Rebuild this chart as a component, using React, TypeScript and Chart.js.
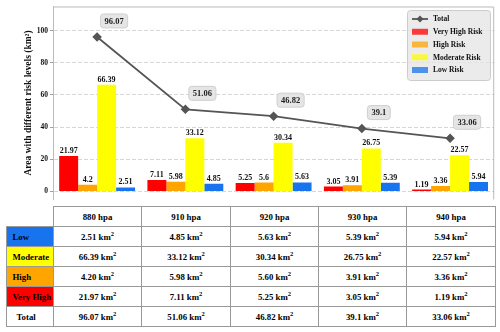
import React, { useEffect, useRef } from 'react';
import { Chart, registerables } from 'chart.js';

Chart.register(...registerables);

const categories = ['880 hpa', '910 hpa', '920 hpa', '930 hpa', '940 hpa'];
const veryHigh = [21.97, 7.11, 5.25, 3.05, 1.19];
const high = [4.2, 5.98, 5.6, 3.91, 3.36];
const moderate = [66.39, 33.12, 30.34, 26.75, 22.57];
const low = [2.51, 4.85, 5.63, 5.39, 5.94];
const total = [96.07, 51.06, 46.82, 39.1, 33.06];
const yTicks = [0, 20, 40, 60, 80, 100];

const FONT = "'Liberation Serif', 'Times New Roman', serif";
const RED = '#ff0000';
const ORANGE = '#ffa500';
const YELLOW = '#ffff00';
const BLUE = '#1874ee';
const LINE = '#555555';

const framePlugin = {
  id: 'frame',
  beforeDatasetsDraw(chart: any) {
    const { ctx, chartArea: a } = chart;
    ctx.save();
    ctx.strokeStyle = '#bbbbbb';
    ctx.lineWidth = 1;
    ctx.beginPath();
    ctx.moveTo(a.left, a.top + 0.5);
    ctx.lineTo(a.right - 0.5, a.top + 0.5);
    ctx.lineTo(a.right - 0.5, a.bottom);
    ctx.stroke();
    ctx.restore();
  },
};

function roundRect(ctx: CanvasRenderingContext2D, x: number, y: number, w: number, h: number, r: number) {
  ctx.beginPath();
  ctx.moveTo(x + r, y);
  ctx.lineTo(x + w - r, y);
  ctx.quadraticCurveTo(x + w, y, x + w, y + r);
  ctx.lineTo(x + w, y + h - r);
  ctx.quadraticCurveTo(x + w, y + h, x + w - r, y + h);
  ctx.lineTo(x + r, y + h);
  ctx.quadraticCurveTo(x, y + h, x, y + h - r);
  ctx.lineTo(x, y + r);
  ctx.quadraticCurveTo(x, y, x + r, y);
  ctx.closePath();
}

const labelPlugin = {
  id: 'labels',
  afterDatasetsDraw(chart: any) {
    const { ctx } = chart;
    ctx.save();
    // bar labels
    ctx.font = `bold 8px ${FONT}`;
    ctx.fillStyle = '#111';
    ctx.textAlign = 'center';
    ctx.textBaseline = 'bottom';
    chart.data.datasets.forEach((ds: any, di: number) => {
      if (ds.type === 'line') return;
      const meta = chart.getDatasetMeta(di);
      meta.data.forEach((el: any, i: number) => {
        ctx.fillText(String(ds.data[i]), el.x, el.y - 1);
      });
    });
    // line labels in boxes
    chart.data.datasets.forEach((ds: any, di: number) => {
      if (ds.type !== 'line') return;
      const meta = chart.getDatasetMeta(di);
      ctx.font = `bold 8.5px ${FONT}`;
      meta.data.forEach((el: any, i: number) => {
        const txt = String(ds.data[i]);
        const w = ctx.measureText(txt).width + 8;
        const h = 14;
        const cx = el.x + 17;
        const cy = el.y - 16;
        roundRect(ctx, cx - w / 2, cy - h / 2, w, h, 3);
        ctx.fillStyle = 'rgba(228,228,228,0.95)';
        ctx.fill();
        ctx.strokeStyle = '#cfcfcf';
        ctx.lineWidth = 1;
        ctx.stroke();
        ctx.fillStyle = '#222';
        ctx.textAlign = 'center';
        ctx.textBaseline = 'middle';
        ctx.fillText(txt, cx, cy + 0.5);
      });
    });
    ctx.restore();
  },
};

const legendPlugin = {
  id: 'customLegend',
  afterDraw(chart: any) {
    const { ctx } = chart;
    ctx.save();
    const bx = 407, by = 10, bw = 83, bh = 70;
    roundRect(ctx, bx + 0.5, by + 0.5, bw, bh, 3);
    ctx.fillStyle = 'rgba(230,230,230,0.82)';
    ctx.fill();
    ctx.strokeStyle = '#cccccc';
    ctx.lineWidth = 1;
    ctx.stroke();
    ctx.font = `bold 7.5px ${FONT}`;
    ctx.textAlign = 'left';
    ctx.textBaseline = 'middle';
    chart.data.datasets.forEach((ds: any, i: number) => {
      const y = by + 9 + i * 12.75;
      const x0 = 412, x1 = 428;
      if (ds.type === 'line') {
        ctx.strokeStyle = LINE;
        ctx.lineWidth = 1.8;
        ctx.beginPath();
        ctx.moveTo(x0, y);
        ctx.lineTo(x1, y);
        ctx.stroke();
        ctx.fillStyle = LINE;
        ctx.beginPath();
        const cx = (x0 + x1) / 2, r = 3.5;
        ctx.moveTo(cx, y - r);
        ctx.lineTo(cx + r, y);
        ctx.lineTo(cx, y + r);
        ctx.lineTo(cx - r, y);
        ctx.closePath();
        ctx.fill();
      } else {
        ctx.globalAlpha = 0.75;
        ctx.fillStyle = ds.backgroundColor;
        ctx.fillRect(x0, y - 3, x1 - x0, 6);
        ctx.globalAlpha = 1;
      }
      ctx.fillStyle = '#111';
      ctx.fillText(ds.label, 433, y + 0.5);
    });
    ctx.restore();
  },
};

const colX = [6, 53, 141, 230, 318, 406, 495];
const rowY = [206, 226, 246, 266, 286, 306, 326];

const rowDefs = [
  { label: 'Low', color: BLUE, values: low, fmt: (v: number) => v.toFixed(2), pad: 5.5 },
  { label: 'Moderate', color: YELLOW, values: moderate, fmt: (v: number) => v.toFixed(2), pad: 5.5 },
  { label: 'High', color: ORANGE, values: high, fmt: (v: number) => v.toFixed(2), pad: 5.5 },
  { label: 'Very High', color: RED, values: veryHigh, fmt: (v: number) => v.toFixed(2), pad: 5.5 },
  { label: 'Total', color: '#ffffff', values: total, fmt: (v: number) => String(v), pad: 9.5 },
];

function Cell(props: { c: number; r: number; bg?: string; align?: string; pad?: number; children?: any }) {
  const { c, r, bg, align, pad, children } = props;
  const left = colX[c];
  const top = rowY[r];
  const width = colX[c + 1] - left + 1;
  const height = rowY[r + 1] - top + 1;
  return (
    <div
      style={{
        position: 'absolute',
        left,
        top,
        width,
        height,
        boxSizing: 'border-box',
        border: '1px solid #999999',
        background: bg || '#ffffff',
        display: 'flex',
        alignItems: 'center',
        justifyContent: align === 'left' ? 'flex-start' : 'center',
        paddingLeft: pad || 0,
        fontFamily: FONT,
        fontWeight: 'bold',
        fontSize: '8.8px',
        color: '#000',
        whiteSpace: 'nowrap',
        lineHeight: '10px',
      }}
    >
      {children}
    </div>
  );
}

export default function App() {
  const ref = useRef<HTMLCanvasElement>(null);

  useEffect(() => {
    const chart = new Chart(ref.current as HTMLCanvasElement, {
      type: 'bar',
      data: {
        labels: categories,
        datasets: [
          {
            type: 'line',
            label: 'Total',
            data: total,
            borderColor: LINE,
            backgroundColor: LINE,
            borderWidth: 1.8,
            pointStyle: 'rectRot',
            pointRadius: 3.5,
            pointBackgroundColor: LINE,
            pointBorderColor: LINE,
            order: 0,
          } as any,
          { type: 'bar', label: 'Very High Risk', data: veryHigh, backgroundColor: RED, order: 1 },
          { type: 'bar', label: 'High Risk', data: high, backgroundColor: ORANGE, order: 1 },
          { type: 'bar', label: 'Moderate Risk', data: moderate, backgroundColor: YELLOW, order: 1 },
          { type: 'bar', label: 'Low Risk', data: low, backgroundColor: BLUE, order: 1 },
        ],
      },
      options: {
        responsive: false,
        animation: false,
        devicePixelRatio: 1,
        layout: { padding: { top: 6, right: 5, left: 0, bottom: 0 } },
        datasets: { bar: { categoryPercentage: 0.86, barPercentage: 1.0 } } as any,
        plugins: {
          legend: { display: false },
          tooltip: { enabled: false },
        },
        scales: {
          x: { display: false, offset: true },
          y: {
            min: -5,
            max: 115,
            afterBuildTicks: (s: any) => {
              s.ticks = yTicks.map((v) => ({ value: v }));
            },
            afterFit: (s: any) => {
              s.width = 53;
            },
            grid: {
              color: '#cccccc',
              lineWidth: 0.8,
              tickColor: '#888888',
              tickLength: 3,
              tickBorderDash: [],
              drawTicks: true,
            } as any,
            border: { display: true, color: '#bbbbbb', dash: [4, 2] },
            ticks: {
              font: { family: FONT, size: 7.5, weight: 'bold' },
              color: '#111',
              padding: 2,
            },
            title: {
              display: true,
              text: 'Area with different risk levels (km²)',
              font: { family: FONT, size: 9.5, weight: 'bold' },
              color: '#111',
              padding: { top: 23, bottom: 0 },
            },
          },
        },
      },
      plugins: [framePlugin, labelPlugin, legendPlugin],
    });
    return () => chart.destroy();
  }, []);

  const cells: any[] = [];
  categories.forEach((cat, i) => {
    cells.push(
      <Cell key={`h${i}`} c={i + 1} r={0}>
        {cat}
      </Cell>
    );
  });
  rowDefs.forEach((row, ri) => {
    cells.push(
      <Cell key={`l${ri}`} c={0} r={ri + 1} bg={row.color} align="left" pad={row.pad}>
        {row.label}
      </Cell>
    );
    row.values.forEach((v, ci) => {
      cells.push(
        <Cell key={`v${ri}-${ci}`} c={ci + 1} r={ri + 1}>
          <span>
            {row.fmt(v)} km
            <sup style={{ fontSize: '6.5px', verticalAlign: 'top', position: 'relative', top: '-3px' }}>2</sup>
          </span>
        </Cell>
      );
    });
  });

  return (
    <div style={{ position: 'absolute', left: 0, top: 0, width: 500, height: 332, background: '#ffffff' }}>
      <canvas
        ref={ref}
        width={500}
        height={206}
        style={{ position: 'absolute', left: 0, top: 0, width: 500, height: 206 }}
      />
      {cells}
    </div>
  );
}
